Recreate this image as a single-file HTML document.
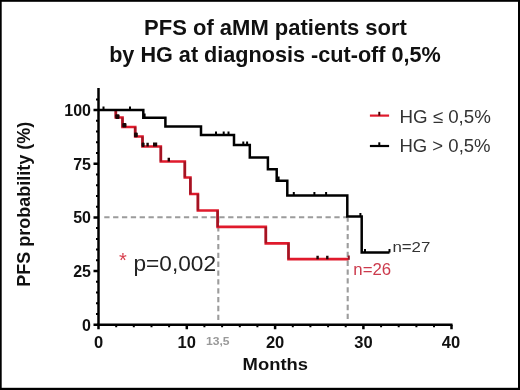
<!DOCTYPE html>
<html><head><meta charset="utf-8"><style>
html,body{margin:0;padding:0;background:#fff;}
body{width:520px;height:390px;overflow:hidden;}
svg{display:block;will-change:transform;}
text{font-family:"Liberation Sans",sans-serif;}
</style></head><body>
<svg width="520" height="390" viewBox="0 0 520 390">
<rect x="0" y="0" width="520" height="390" fill="#fff"/>
<!-- frame -->
<rect x="0" y="0" width="520" height="1.8" fill="#000"/>
<rect x="0" y="0" width="1.7" height="390" fill="#000"/>
<rect x="518" y="0" width="2" height="390" fill="#000"/>
<rect x="0" y="387.8" width="520" height="2.2" fill="#000"/>

<!-- title -->
<text x="275.5" y="34.7" font-size="22" font-weight="bold" text-anchor="middle" fill="#111">PFS of aMM patients sort</text>
<text x="275" y="61.9" font-size="22" font-weight="bold" text-anchor="middle" fill="#111" textLength="331.7" lengthAdjust="spacingAndGlyphs">by HG at diagnosis -cut-off 0,5%</text>

<!-- dashed median lines -->
<g stroke="#9c9c9c" stroke-width="2.1" stroke-dasharray="5.3 3.55" fill="none">
<path d="M104.25 217.2 H347.5"/>
<path d="M218.3 320 V218"/>
<path d="M347.7 319 V218"/>
</g>

<!-- axes -->
<g stroke="#000" stroke-width="2.5" fill="none">
<path d="M98.5 88 V326"/>
<path d="M97.3 324.7 H452.5"/>
<!-- y major ticks -->
<path d="M93.5 324.7 H98.5 M93.5 271.05 H98.5 M93.5 217.4 H98.5 M93.5 163.8 H98.5 M93.5 110 H98.5"/>
<!-- x major ticks -->
<path d="M98.5 324.7 V329.2 M186.8 324.7 V329.2 M275.1 324.7 V329.2 M363.4 324.7 V329.2 M451.5 324.7 V329.2"/>
</g>
<g stroke="#000" stroke-width="2" fill="none">
<!-- y minor ticks -->
<path d="M96 314.0 H98 M96 303.2 H98 M96 292.5 H98 M96 281.8 H98 M96 260.3 H98 M96 249.6 H98 M96 238.9 H98 M96 228.1 H98 M96 206.7 H98 M96 195.9 H98 M96 185.2 H98 M96 174.5 H98 M96 153.0 H98 M96 142.3 H98 M96 131.6 H98 M96 120.8 H98 M96 99.4 H98"/>
<!-- x minor ticks -->
<path d="M116.2 325 V327.3 M133.8 325 V327.3 M151.5 325 V327.3 M169.1 325 V327.3 M204.4 325 V327.3 M222.1 325 V327.3 M239.8 325 V327.3 M257.4 325 V327.3 M292.8 325 V327.3 M310.4 325 V327.3 M328.1 325 V327.3 M345.7 325 V327.3 M381.1 325 V327.3 M398.7 325 V327.3 M416.4 325 V327.3 M434 325 V327.3"/>
</g>

<!-- red curve -->
<path d="M115.8 110 V117.5 H122.5 V127 H135.2 V136.5 H142.5 V146.5 H160.8 V161.5 H184.8 V177.5 H190.4 V194 H197.9 V210.5 H217.6 V226.9 H265.8 V243.3 H288.5 V259.2 H348.5" stroke="#e01a2c" stroke-width="2.7" fill="none" stroke-linejoin="miter"/>
<path d="M115.8 110.5 V117.5 M122.5 117.5 V127 M135.2 127 V136.5 M142.5 136.5 V146.5 M160.8 146.5 V161.5 M184.8 161.5 V177.5 M190.4 177.5 V194 M197.9 194 V210.5 M217.6 210.5 V226.9 M265.8 226.9 V243.3 M288.5 243.3 V259.2" stroke="#5a0c16" stroke-opacity="0.45" stroke-width="2.6" fill="none"/>
<!-- red censor/dark marks -->
<g fill="#1a0606">
<rect x="115.3" y="114.3" width="4.2" height="4.6" rx="1"/>
<rect x="122.3" y="123" width="4.2" height="4.6" rx="1"/>
<rect x="134" y="132.6" width="3.8" height="4.6" rx="1"/>
<rect x="141.6" y="142.4" width="3" height="4.6" rx="1"/>
</g>
<g stroke="#1a0606" stroke-width="2.4" fill="none">
<path d="M147.6 142.8 V146.5 M154.2 142.6 V146.5 M156 142.6 V146.5 M168.8 157.7 V161.5 M317.6 255.7 V259.2 M327.3 255.7 V259.2"/>
</g>
<path d="M348.8 255.5 V259.8" stroke="#8a1826" stroke-width="2" fill="none"/>

<!-- black curve -->
<path d="M98.5 110 H143.3 V117.7 H165.4 V126.5 H201 V135 H234 V145 H249.8 V157.5 H267.9 V169.2 H276.7 V180.7 H287.3 V195.4 H347.3 V216.5 H361.7 V252.5 H389.5" stroke="#000" stroke-width="2.5" fill="none"/>
<g stroke="#000" stroke-width="2" fill="none">
<path d="M103.5 106.5 V110 M130 106.5 V110 M216 131.5 V135 M223.7 131.5 V135 M228.5 131.5 V135 M243.3 141.5 V145 M247.1 141.5 V145 M293.8 192 V195.5 M314.4 192 V195.5 M326.1 192 V195.5 M360.4 213 V216.5 M365 249 V252.5 M389.5 249 V252.5"/>
<path d="M144.6 113.5 V118 M278.6 176.5 V181"/>
</g>

<!-- y tick labels -->
<g font-size="16" font-weight="bold" text-anchor="end" fill="#111">
<text x="91" y="115.9">100</text>
<text x="91" y="169.6">75</text>
<text x="91" y="223.2">50</text>
<text x="91" y="277.2">25</text>
<text x="91" y="331">0</text>
</g>
<!-- x tick labels -->
<g font-size="16.5" font-weight="bold" text-anchor="middle" fill="#111">
<text x="98.5" y="347.7">0</text>
<text x="186.8" y="347.7">10</text>
<text x="275.1" y="347.7">20</text>
<text x="363.4" y="347.7">30</text>
<text x="451" y="347.7">40</text>
</g>
<text x="217.8" y="345.2" font-size="11.3" font-weight="bold" text-anchor="middle" fill="#999" textLength="23.6" lengthAdjust="spacingAndGlyphs">13,5</text>

<!-- axis titles -->
<text x="275.3" y="370.2" font-size="17" font-weight="bold" text-anchor="middle" fill="#111" textLength="65.4" lengthAdjust="spacingAndGlyphs">Months</text>
<text transform="translate(30.4 204.3) rotate(-90)" x="0" y="0" font-size="18" font-weight="bold" text-anchor="middle" fill="#111">PFS probability (%)</text>

<!-- legend -->
<path d="M369.9 115.6 H389.1" stroke="#e01a2c" stroke-width="2.2"/>
<path d="M379.3 111.8 V115.6" stroke="#400" stroke-width="2"/>
<path d="M369.9 146 H389.1" stroke="#000" stroke-width="2.2"/>
<path d="M379.3 142.3 V146" stroke="#000" stroke-width="2"/>
<g font-size="18.5" fill="#333">
<text x="399.4" y="122.8" textLength="91.5" lengthAdjust="spacingAndGlyphs">HG ≤ 0,5%</text>
<text x="399.4" y="152.2" textLength="91.2" lengthAdjust="spacingAndGlyphs">HG &gt; 0,5%</text>
</g>

<!-- n labels -->
<text x="392.4" y="251.9" font-size="15.5" fill="#333" textLength="38" lengthAdjust="spacingAndGlyphs">n=27</text>
<text x="353.3" y="275" font-size="16" fill="#cc3a4c" textLength="37.8" lengthAdjust="spacingAndGlyphs">n=26</text>

<!-- p-value -->
<text x="118.9" y="267.2" font-size="20" fill="#d8404e">*</text>
<text x="133.5" y="270.5" font-size="21.5" fill="#222" textLength="82.5" lengthAdjust="spacingAndGlyphs">p=0,002</text>
</svg>
</body></html>
